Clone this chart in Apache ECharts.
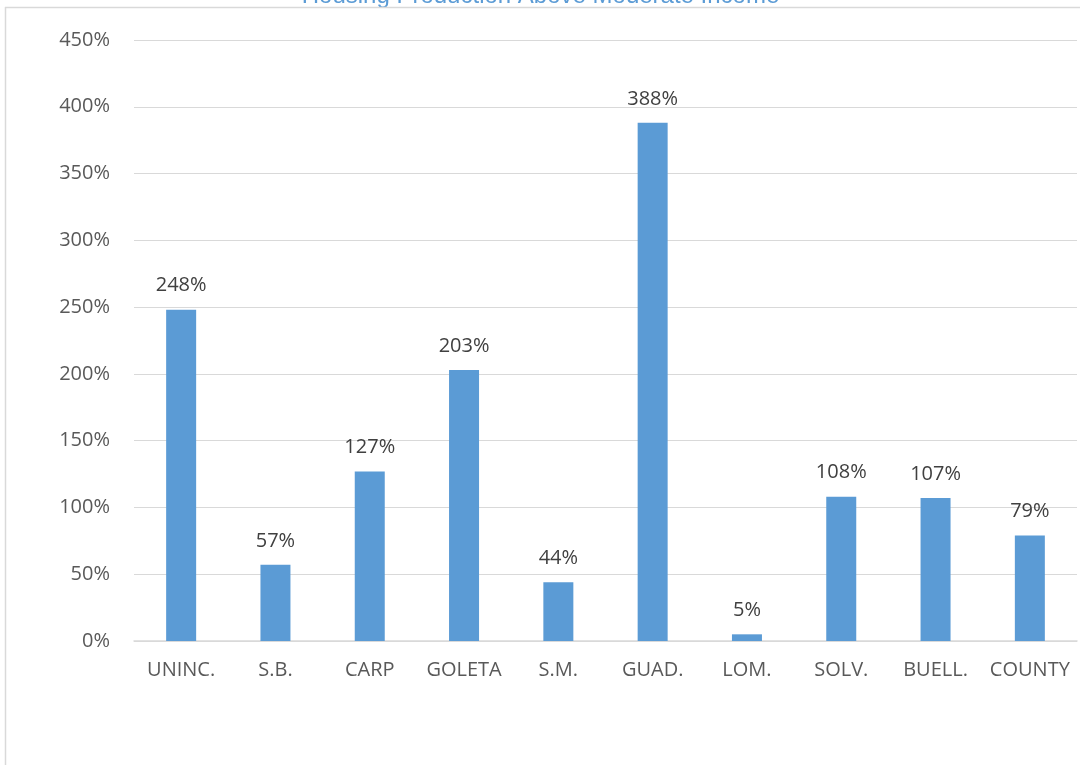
<!DOCTYPE html>
<html>
<head>
<meta charset="utf-8">
<script src="https://cdn.jsdelivr.net/npm/echarts@6/dist/echarts.min.js"></script>
<style>
  html, body { margin: 0; padding: 0; background: #fff; }
  #chart { width: 1081px; height: 765px; }
</style>
</head>
<body>
<div id="chart"></div>
<script>
// categories and values
const categories = ['UNINC.', 'S.B.', 'CARP', 'GOLETA', 'S.M.', 'GUAD.', 'LOM.', 'SOLV.', 'BUELL.', 'COUNTY']
const percentValues = [248, 57, 127, 203, 44, 388, 5, 108, 107, 79]
const titleText = 'Housing Production Above Moderate Income'

const chart = echarts.init(document.getElementById('chart'))

const labelFont = 'Open Sans, Noto Sans, sans-serif'

const option = {
  animation: false,
  title: {
    text: titleText,
    left: 'center',
    top: -21,
    textStyle: {
      fontFamily: 'Liberation Sans, Arial, sans-serif',
      fontSize: 24,
      fontWeight: 'normal',
      color: '#5B9BD5'
    }
  },
  // chart frame (only the top and left edges are visible in the crop)
  graphic: [
    {
      type: 'line',
      shape: { x1: 5, y1: 7.5, x2: 1080, y2: 7.5 },
      style: { stroke: '#D9D9D9', lineWidth: 1.5 },
      z: 10
    },
    {
      type: 'line',
      shape: { x1: 5.5, y1: 7, x2: 5.5, y2: 765 },
      style: { stroke: '#D9D9D9', lineWidth: 1.5 },
      z: 10
    }
  ],
  grid: {
    left: 134,
    right: 4,
    top: 40,
    bottom: 124
  },
  xAxis: {
    type: 'category',
    data: categories,
    axisTick: { show: false },
    axisLine: { lineStyle: { color: '#D9D9D9', width: 1.5 } },
    axisLabel: {
      interval: 0,
      hideOverlap: false,
      margin: 19,
      fontFamily: labelFont,
      fontSize: 20,
      color: '#595959'
    }
  },
  yAxis: {
    type: 'value',
    min: 0,
    max: 450,
    interval: 50,
    axisLine: { show: false },
    axisTick: { show: false },
    splitLine: { lineStyle: { color: '#D9D9D9', width: 1.2 } },
    axisLabel: {
      margin: 24,
      formatter: '{value}%',
      fontFamily: labelFont,
      fontSize: 20,
      color: '#595959'
    }
  },
  series: [
    {
      type: 'bar',
      data: percentValues,
      barWidth: 30,
      itemStyle: { color: '#5B9BD5' },
      label: {
        show: true,
        position: 'top',
        distance: 14,
        formatter: '{c}%',
        fontFamily: labelFont,
        fontSize: 20,
        color: '#404040'
      }
    }
  ]
}

chart.setOption(option)
</script>
</body>
</html>
